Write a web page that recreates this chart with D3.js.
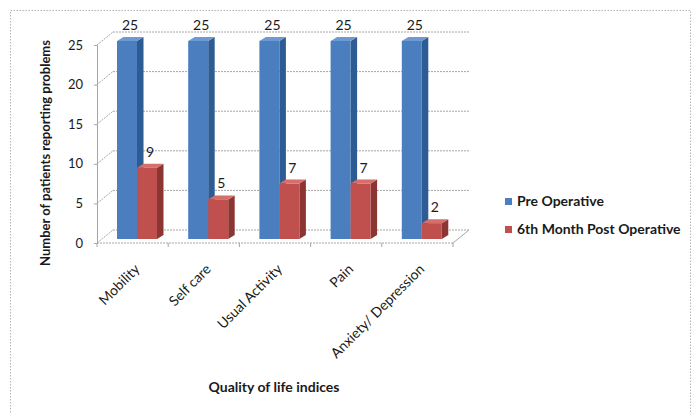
<!DOCTYPE html>
<html>
<head>
<meta charset="utf-8">
<script src="https://cdn.jsdelivr.net/npm/d3@7"></script>
<style>
  html, body { margin: 0; padding: 0; background: #fff; }
  svg { display: block; }
  text { font-family: Lato, "Open Sans", sans-serif; fill: #1a1a1a; }
</style>
</head>
<body>
<svg id="chart" width="694" height="414"></svg>
<script>
// Quality of life indices, patients reporting problems
const categories = ["Mobility", "Self care", "Usual Activity", "Pain", "Anxiety/ Depression"];
const seriesNames = ["Pre Operative", "6th Month Post Operative"];
const preOperative = [25, 25, 25, 25, 25];
const postOperative = [9, 5, 7, 7, 2];
const yTicks = [0, 5, 10, 15, 20, 25];

const palette = [
  { front: "#4a7ebf", side: "#2d5b94", top: "#6e9ad3" },
  { front: "#c0504d", side: "#8c3634", top: "#d66f6c" }
];

const svg = d3.select("#chart");

// Outer chart frame
svg.append("rect")
  .attr("x", 10.5).attr("y", 10.5).attr("width", 680).attr("height", 430)
  .attr("fill", "none").attr("stroke", "#b4b4b4").attr("stroke-dasharray", "1.5,1.5");

// Geometry of the 3D box
const frontBase = 243, backBase = 230, barBase = 239;
const left = 97, right = 453;
const wallDx = 16, wallDy = frontBase - backBase;
const barDx = 6.5, barDy = -4;

const y = d3.scaleLinear().domain([0, 25]).range([0, -198]);
const x0 = d3.scaleBand().domain(categories).range([left, right]);
const x1 = d3.scaleBand().domain(seriesNames).range([0, 40]);
const barOffset = 20;

const gridColor = "#a6a6a6";
const grid = svg.append("g");

// Back wall gridlines
grid.selectAll("line.back").data(yTicks).join("line")
  .attr("x1", left + wallDx).attr("x2", right + wallDx)
  .attr("y1", d => backBase + y(d)).attr("y2", d => backBase + y(d))
  .attr("stroke", gridColor).attr("stroke-dasharray", "2,1");

// Side wall diagonals
grid.selectAll("line.side").data(yTicks).join("line")
  .attr("x1", left).attr("x2", left + wallDx)
  .attr("y1", d => frontBase + y(d)).attr("y2", d => backBase + y(d))
  .attr("stroke", gridColor).attr("stroke-dasharray", "2,1");

// Floor right edge
grid.append("line")
  .attr("x1", right).attr("y1", frontBase)
  .attr("x2", right + wallDx).attr("y2", backBase)
  .attr("stroke", gridColor);

// Front value axis
const yAxis = d3.axisLeft(d3.scaleLinear().domain([0, 25]).range([frontBase, frontBase + y(25)]))
  .tickValues(yTicks).tickSize(3).tickPadding(11);
const gy = svg.append("g").attr("transform", `translate(${left},0)`).call(yAxis);
gy.select(".domain").attr("stroke", gridColor);
gy.selectAll(".tick line").attr("stroke", gridColor);
gy.selectAll(".tick text").attr("font-size", 13).attr("fill", "#1a1a1a")
  .style("font-family", "Lato, 'Open Sans', sans-serif");

// Front floor edge with category boundary ticks
svg.append("line")
  .attr("x1", left).attr("x2", right).attr("y1", frontBase).attr("y2", frontBase)
  .attr("stroke", gridColor).attr("stroke-dasharray", "2,1");
const boundaries = categories.map(c => x0(c) + x0.bandwidth()).concat([left]);
svg.append("g").selectAll("line").data(boundaries).join("line")
  .attr("x1", d => d).attr("x2", d => d)
  .attr("y1", frontBase).attr("y2", frontBase + 4)
  .attr("stroke", gridColor);

// 3D bars
const rows = [];
categories.forEach((c, i) => {
  [preOperative[i], postOperative[i]].forEach((v, s) => {
    rows.push({ cat: c, series: seriesNames[s], s, value: v });
  });
});

const bars = svg.append("g").selectAll("g").data(rows).join("g");
bars.each(function (d) {
  const g = d3.select(this);
  const bx = x0(d.cat) + barOffset + x1(d.series);
  const w = x1.bandwidth();
  const top = barBase + y(d.value);
  const col = palette[d.s];
  // side face
  g.append("path")
    .attr("d", `M${bx + w},${top} L${bx + w + barDx},${top + barDy} L${bx + w + barDx},${barBase + barDy} L${bx + w},${barBase} Z`)
    .attr("fill", col.side);
  // top face
  g.append("path")
    .attr("d", `M${bx},${top} L${bx + barDx},${top + barDy} L${bx + w + barDx},${top + barDy} L${bx + w},${top} Z`)
    .attr("fill", col.top);
  // front face
  g.append("rect")
    .attr("x", bx).attr("y", top).attr("width", w).attr("height", barBase - top)
    .attr("fill", col.front);
});

// Value labels
svg.append("g").selectAll("text").data(rows).join("text")
  .attr("x", d => x0(d.cat) + barOffset + x1(d.series) + x1.bandwidth() / 2 + 3)
  .attr("y", d => barBase + y(d.value) + barDy - 7)
  .attr("text-anchor", "middle").attr("font-size", 14)
  .text(d => d.value);

// Category labels
svg.append("g").selectAll("text").data(categories).join("text")
  .attr("transform", d => `translate(${x0(d) + x0.bandwidth() / 2 + 8},${frontBase + 27}) rotate(-45)`)
  .attr("text-anchor", "end").attr("font-size", 14)
  .text(d => d);

// Axis titles
svg.append("text")
  .attr("transform", "translate(50,153) rotate(-90)")
  .attr("text-anchor", "middle").attr("font-size", 13).attr("font-weight", "bold")
  .text("Number of patients reporting problems");
svg.append("text")
  .attr("x", 274).attr("y", 392)
  .attr("text-anchor", "middle").attr("font-size", 14).attr("font-weight", "bold")
  .text("Quality of life indices");

// Legend
const legend = svg.append("g").selectAll("g").data(seriesNames).join("g")
  .attr("transform", (d, i) => `translate(505,${198 + i * 28})`);
legend.append("rect").attr("width", 7).attr("height", 7)
  .attr("fill", (d, i) => palette[i].front);
legend.append("text").attr("x", 12).attr("y", 8)
  .attr("font-size", 14).attr("font-weight", "bold")
  .text(d => d);
</script>
</body>
</html>
